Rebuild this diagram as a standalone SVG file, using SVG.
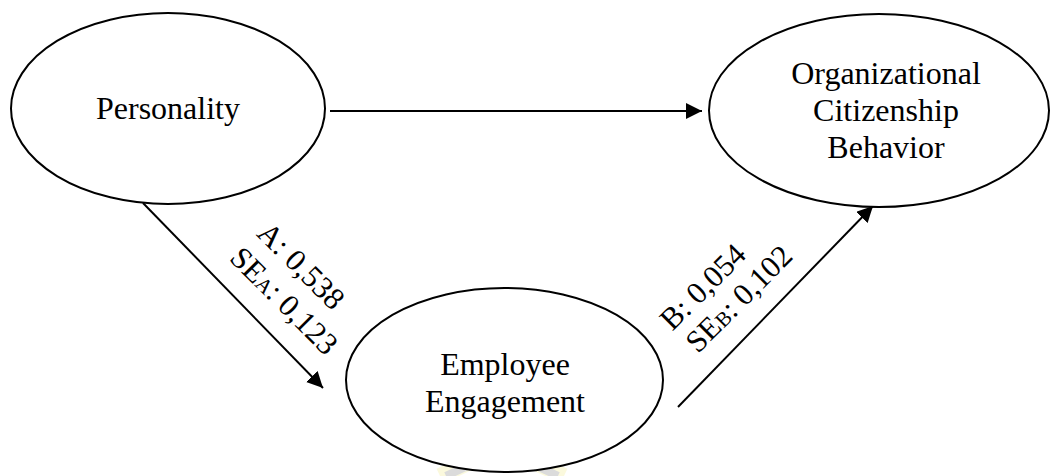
<svg xmlns="http://www.w3.org/2000/svg" width="1051" height="476" viewBox="0 0 1051 476">
<style>
.node{fill:#fff;stroke:#000;stroke-width:2}
.lbl{font-family:"Liberation Serif","Times New Roman",serif;font-size:32px;fill:#000;text-anchor:middle}
.elbl{font-family:"Liberation Serif","Times New Roman",serif;font-size:31px;fill:#000;text-anchor:middle}
.sub{font-size:21px}
.edge{stroke:#000;stroke-width:2;fill:none}
</style>
<defs>
<marker id="ahb" viewBox="0 0 16 16" refX="16" refY="8" markerWidth="16" markerHeight="16" markerUnits="userSpaceOnUse" orient="auto">
<path d="M0,0 L16,8 L0,16 z" fill="#000"/>
</marker>
</defs>
<rect width="1051" height="476" fill="#fff"/>
<g id="watermark" opacity="0.35">
<path d="M440,476 L502,447 L564,476" fill="none" stroke="#f5f0a0" stroke-width="16"/>
<path d="M446,476 L502,450 L558,476" fill="none" stroke="#9a9a9a" stroke-width="8"/>
</g>
<g id="connectors">
<line class="edge" x1="330" y1="111" x2="702" y2="111" marker-end="url(#ahb)"/>
<line class="edge" x1="143" y1="203" x2="323" y2="388" marker-end="url(#ahb)"/>
<line class="edge" x1="678" y1="407" x2="873" y2="206" marker-end="url(#ahb)"/>
<g id="label-a">
<text class="elbl" transform="translate(301,266) rotate(45)" y="10">A: 0,538</text>
<text class="elbl" transform="translate(284,301) rotate(45)" y="10">SE<tspan class="sub">A</tspan>: 0,123</text>
</g>
<g id="label-b">
<text class="elbl" transform="translate(703,287) rotate(-45)" y="10">B: 0,054</text>
<text class="elbl" transform="translate(739,299) rotate(-45)" y="10">SE<tspan class="sub">B</tspan>: 0,102</text>
</g>
</g>
<g id="personality">
<ellipse class="node" cx="168" cy="108.5" rx="157" ry="95.5"/>
<text class="lbl" x="168" y="119">Personality</text>
</g>
<g id="ocb">
<ellipse class="node" cx="879" cy="110.5" rx="170" ry="96.5"/>
<text class="lbl" x="886" y="84">Organizational</text>
<text class="lbl" x="886" y="121">Citizenship</text>
<text class="lbl" x="886" y="158">Behavior</text>
</g>
<g id="engagement">
<ellipse class="node" cx="504.5" cy="380" rx="158.5" ry="92"/>
<text class="lbl" x="505" y="375">Employee</text>
<text class="lbl" x="505" y="412">Engagement</text>
</g>
</svg>
